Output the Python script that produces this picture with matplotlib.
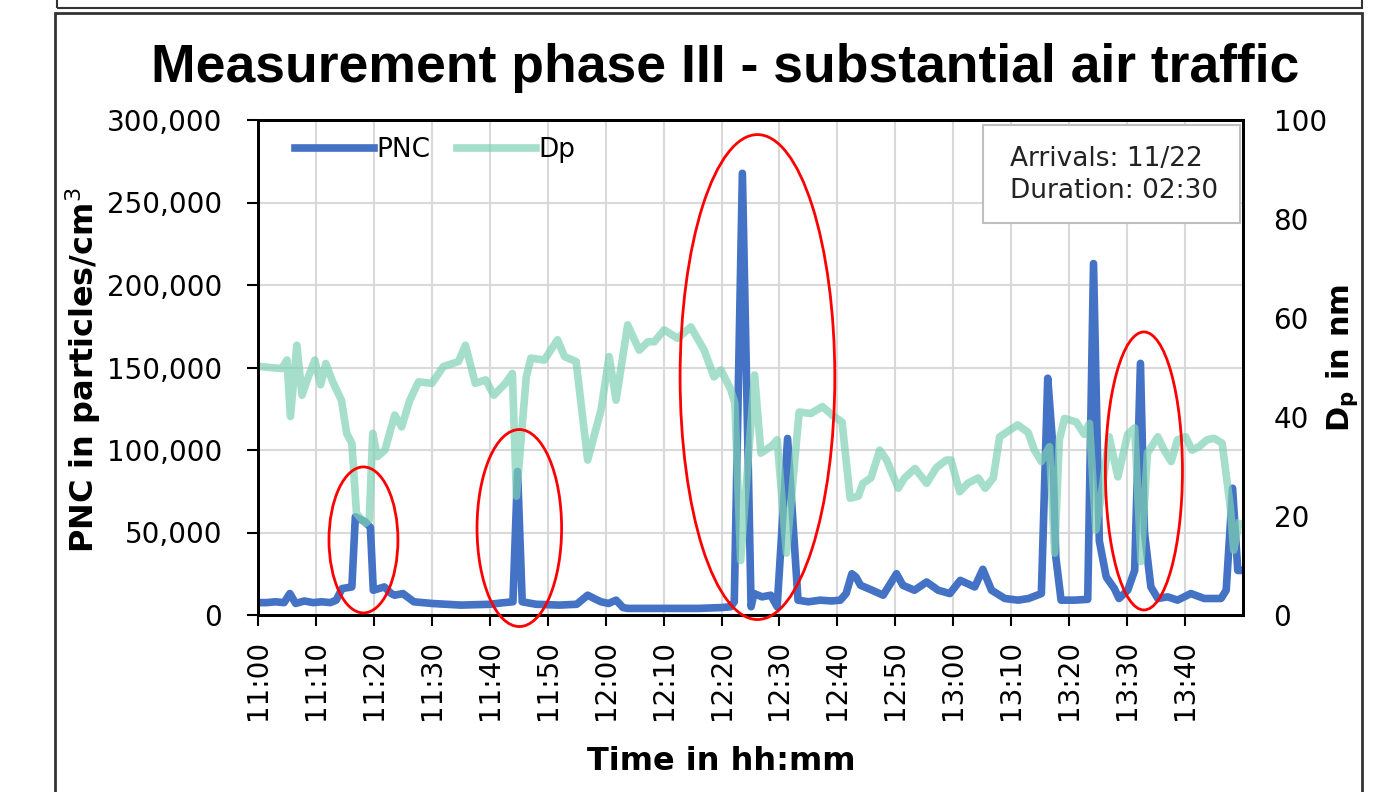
import matplotlib
matplotlib.use("Agg")
import matplotlib.pyplot as plt
from matplotlib.patches import Ellipse, Rectangle
from matplotlib.ticker import FuncFormatter

# minutes after 11:00
pnc_t = [0.5, 1.5, 3, 4.5, 5.5, 6.5, 8, 9.5, 11, 12.5, 13.5, 14.5, 16.2, 16.8, 18.5, 19.4,
         19.9, 21.8, 23, 23.6, 25, 26.9, 30, 35, 40, 42.5, 44, 44.8, 45.6, 48, 52, 55, 56.9,
         58, 59.2, 60.5, 61.8, 63, 63.8, 70, 76, 80, 81.6, 82.2, 83.6, 85.1, 85.6, 87, 88.5,
         89.6, 91.4, 93.2, 95, 97, 99, 100.5, 101.5, 102.5, 103.2, 104, 106, 107.9, 110.2,
         111.3, 113.3, 115.4, 117.4, 119.4, 121.2, 123.7, 125.1, 126.6, 128.9, 131.2, 133,
         135.2, 136.3, 137.1, 137.7, 138.6, 141, 143.2, 144.2, 145.2, 146.4, 147.8, 148.6,
         150.1, 151.3, 152.3, 153, 154.1, 155.3, 157, 158.7, 161, 163.3, 166.2, 167.1, 168.2,
         169.1, 169.7]
pnc = [7500, 7500, 8000, 7500, 13000, 7000, 8500, 7500, 8000, 7500, 9000, 16000, 17000, 59500,
       56500, 53000, 15000, 17000, 13000, 12000, 13000, 8000, 7000, 6000, 6500, 7500, 8000,
       87000, 8000, 6500, 6000, 6500, 12000, 10000, 8000, 7000, 9000, 4500, 4000, 4000, 4000,
       4500, 5000, 8000, 267700, 5000, 13000, 11000, 12000, 5000, 107000, 9000, 8000, 9000,
       8500, 9000, 13000, 25000, 23000, 18000, 15000, 12000, 25000, 18000, 15000, 20000,
       15000, 13000, 21000, 17000, 27700, 15000, 10000, 9000, 10000, 13000, 143500, 106000,
       35000, 9000, 9000, 9500, 213000, 45000, 23000, 16000, 10000, 15000, 27000, 152500,
       50000, 17000, 10000, 11000, 9000, 13000, 10000, 10000, 15000, 76800, 27000, 27000]

dp_t = [0.5, 2, 4.1, 5, 5.6, 6.7, 7.6, 8.5, 9.8, 10.8, 11.7, 12.9, 14.4, 15.3, 16.2, 17, 18.5,
        19.2, 19.8, 20.6, 21.9, 23.6, 24.8, 26.2, 27.7, 30, 32, 34.6, 35.8, 37.5, 39.3, 40.7,
        42.7, 43.9, 44.6, 46.3, 47.1, 49.4, 51.7, 52.9, 54.9, 56.9, 59.2, 60.6, 61.8, 63.8,
        65.8, 67.3, 68.4, 70.1, 72.4, 74.7, 77, 78.7, 79.9, 81.6, 82.3, 83.3, 85.7, 86.8, 88.8,
        89.6, 91.2, 93.4, 95.4, 97.4, 99.4, 100.8, 102.2, 103.6, 104.4, 105.8, 107.3, 108.5,
        110.5, 111.6, 113.4, 115.4, 117.1, 118.8, 119.6, 121.1, 122.5, 124.3, 125.5, 126.9,
        128, 131.1, 132.9, 134, 135.2, 136.6, 137.5, 138.3, 139.2, 141.2, 142.6, 143.5, 144.6,
        145.5, 146.9, 148.4, 150.1, 151.3, 152.4, 153.5, 155.3, 156.4, 157.6, 158.7, 160.1,
        161.2, 162.4, 163.8, 165, 166.4, 167.8, 168.4, 169.3]
dp = [50.2, 50, 49.8, 51.5, 40.1, 54.5, 44.4, 47.5, 51.5, 46.5, 50.8, 47.1, 43.4, 36.7, 34.7,
      20.5, 18.5, 19.2, 36.7, 32, 33.3, 40.4, 38, 43.4, 47.1, 46.8, 50.2, 51.2, 54.5, 46.8,
      47.5, 44.4, 46.8, 48.8, 24, 48.1, 51.9, 51.5, 55.6, 52.2, 51.2, 31.3, 41.4, 52.2, 43.4,
      58.6, 53.5, 55.2, 55.2, 57.6, 55.9, 58.2, 53.5, 48.1, 49.5, 45.5, 42.8, 11, 48.5, 32.7,
      34.3, 35.4, 12.5, 41, 40.7, 42.1, 40.1, 39, 23.6, 24, 26.6, 27.7, 33.3, 31.3, 25.6, 27.7,
      29.6, 26.6, 29.8, 31.3, 31.3, 24.9, 26.6, 27.7, 25.6, 27.7, 36, 38.4, 36.9, 33.3, 31,
      34, 12.5, 35.4, 39.7, 39, 36.5, 38.7, 17.2, 23.9, 36, 27.9, 36.5, 37.8, 10.8, 32.7, 36,
      33.3, 31, 35.4, 36, 33.3, 34, 35.4, 35.7, 34.7, 21.9, 13.1, 18.5]

tick_minutes = [0, 10, 20, 30, 40, 50, 60, 70, 80, 90, 100, 110, 120, 130, 140, 150, 160]
tick_labels = ['11:00', '11:10', '11:20', '11:30', '11:40', '11:50', '12:00', '12:10',
               '12:20', '12:30', '12:40', '12:50', '13:00', '13:10', '13:20', '13:30', '13:40']

# highlighted events: centre time, centre PNC, width (min), height (PNC)
hl_t = [18.2, 45.1, 86.2, 152.9]
hl_y = [45500, 52700, 144200, 87300]
hl_w = [11.9, 14.6, 26.7, 13.3]
hl_h = [88500, 119400, 293900, 168500]

W, H = 1394, 792
plt.rcParams['font.family'] = 'DejaVu Sans'
fig = plt.figure(figsize=(W / 100, H / 100), dpi=100)


def fx(x):
    return x / W


def fy(y):
    return 1 - y / H


# panel frames
fig.patches.append(Rectangle((fx(57), fy(8)), fx(1362) - fx(57), 0.05,
                             transform=fig.transFigure, fill=False, ec='#333333', lw=1.5))
fig.patches.append(Rectangle((fx(55), -0.05), fx(1362) - fx(55), fy(13) + 0.05,
                             transform=fig.transFigure, fill=False, ec='#333333', lw=2))

ax = fig.add_axes([fx(258), fy(615), fx(1243) - fx(258), fy(120) - fy(615)])
ax2 = ax.twinx()

line_pnc, = ax.plot(pnc_t, pnc, color='#4472C4', lw=5.5, solid_joinstyle='round', label='PNC')
line_dp, = ax2.plot(dp_t, dp, color='#7fd1b5', alpha=0.7, lw=5.5, solid_joinstyle='round',
                    label='Dp')

ax.set_xlim(0, 170)
ax.set_ylim(0, 300000)
ax2.set_ylim(0, 100)
ax.set_xticks(tick_minutes)
ax.set_xticklabels(tick_labels, rotation=90)
ax.set_yticks(range(0, 300001, 50000))
ax.yaxis.set_major_formatter(FuncFormatter(lambda v, p: f'{int(v):,}'))
ax2.set_yticks(range(0, 101, 20))

ax.grid(True, color='#d9d9d9', lw=1.5)
ax.set_axisbelow(True)
for a in (ax, ax2):
    for s in a.spines.values():
        s.set_color('black')
        s.set_linewidth(2)

ax.tick_params(axis='both', labelsize=20, direction='out', length=8, width=1.5, colors='black')
ax.tick_params(axis='y', pad=18)
ax.tick_params(axis='x', pad=10)
ax2.tick_params(axis='y', labelsize=20, length=0, pad=22)

ax.set_ylabel('PNC in particles/cm$^3$', fontsize=23, fontweight='bold')
ax.yaxis.set_label_coords(-0.157, 0.495)
ax2.set_ylabel('D$_\\mathbf{p}$ in nm', fontsize=22, fontweight='bold')
ax2.yaxis.set_label_coords(1.082, 0.52)
ax.set_xlabel('Time in hh:mm', fontsize=23, fontweight='bold')
ax.xaxis.set_label_coords(0.47, -0.265)
fig.text(fx(725), fy(68), 'Measurement phase III - substantial air traffic',
         fontsize=38.5, fontweight='bold', ha='center', va='center',
         family=['Liberation Sans', 'DejaVu Sans'])

ax2.legend(handles=[line_pnc, line_dp], loc='upper left', bbox_to_anchor=(0.02, 1.0), ncol=2,
           frameon=False, fontsize=19, handlelength=3.0, handletextpad=0.1, columnspacing=1.0,
           borderaxespad=0.25)

ax2.add_patch(Rectangle((0.736, 0.792), 0.261, 0.198, transform=ax2.transAxes,
                        fill=True, fc='white', ec='#bfbfbf', lw=1.5, zorder=5))
ax2.text(0.763, 0.889, 'Arrivals: 11/22\nDuration: 02:30', transform=ax2.transAxes,
         fontsize=19, va='center', ha='left', linespacing=1.3, zorder=6, color='#222222')

for t, y, w, h in zip(hl_t, hl_y, hl_w, hl_h):
    e = Ellipse((t, y), w, h, transform=ax.transData, fill=False, ec='red', lw=2,
                clip_on=False, zorder=10)
    ax2.add_patch(e)

ax2.set_ylim(0, 100)
fig.savefig('out.png', dpi=100)
